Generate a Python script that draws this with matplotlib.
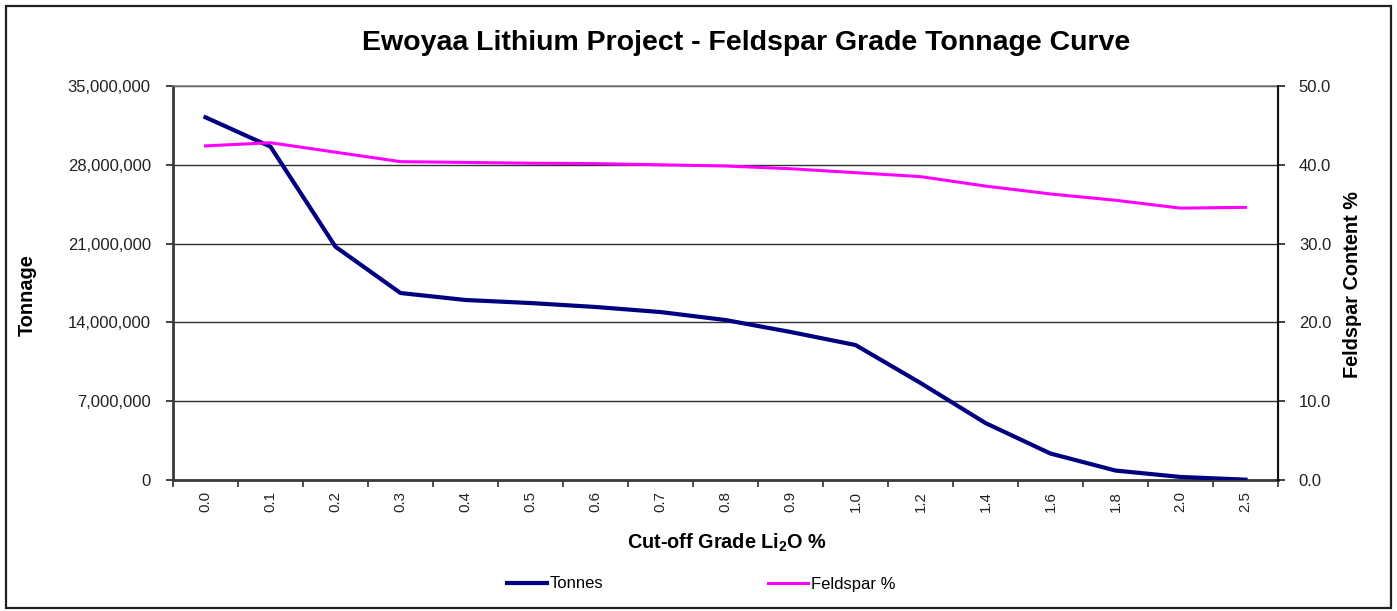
import matplotlib
matplotlib.use("Agg")
import matplotlib.pyplot as plt
from matplotlib.lines import Line2D
from matplotlib.patches import Rectangle
from matplotlib.ticker import FuncFormatter, MultipleLocator, FixedLocator

plt.rcParams['font.family'] = ['Liberation Sans', 'DejaVu Sans']
plt.rcParams['mathtext.fontset'] = 'custom'
plt.rcParams['mathtext.rm'] = 'Liberation Sans:bold'
plt.rcParams['mathtext.bf'] = 'Liberation Sans:bold'

cutoffs = ["0.0", "0.1", "0.2", "0.3", "0.4", "0.5", "0.6", "0.7", "0.8",
           "0.9", "1.0", "1.2", "1.4", "1.6", "1.8", "2.0", "2.5"]
tonnes = [32220000, 29610000, 20720000, 16610000, 15990000, 15720000,
          15370000, 14920000, 14210000, 13150000, 11990000, 8620000,
          5060000, 2350000, 840000, 270000, 30000]
feldspar = [42.4, 42.8, 41.6, 40.4, 40.3, 40.2, 40.15, 40.0, 39.85,
            39.5, 39.0, 38.5, 37.3, 36.3, 35.5, 34.5, 34.6]

W, H = 1397, 611
fig = plt.figure(figsize=(W / 100, H / 100), dpi=100)
fig.patch.set_facecolor("white")

# outer chart border
fig.add_artist(Rectangle((6 / W, 3 / H), (1391 - 6) / W, (605 - 3) / H,
                         transform=fig.transFigure, fill=False,
                         edgecolor="#202020", linewidth=1.6))

ax = fig.add_axes([173 / W, (H - 480) / H, (1278 - 173) / W, (480 - 86) / H])
ax2 = ax.twinx()

x = list(range(len(cutoffs)))
ax.plot(x, tonnes, color="#000080", linewidth=3.0, solid_joinstyle="round",
        zorder=3)
ax2.plot(x, feldspar, color="#FF00FF", linewidth=2.2, zorder=3)

ax.set_xlim(-0.5, len(cutoffs) - 0.5)
ax.set_ylim(0, 35000000)
ax2.set_ylim(0, 50)

ax.yaxis.set_major_locator(MultipleLocator(7000000))
ax.yaxis.set_major_formatter(FuncFormatter(lambda v, p: f"{int(v):,}"))
ax2.yaxis.set_major_locator(MultipleLocator(10))
ax2.yaxis.set_major_formatter(FuncFormatter(lambda v, p: f"{v:.1f}"))

ax.set_xticks(x)
ax.set_xticklabels(cutoffs, rotation=90, fontsize=10.8, color="#222222")
ax.xaxis.set_minor_locator(FixedLocator([i - 0.5 for i in range(len(cutoffs) + 1)]))
ax.tick_params(axis="x", which="major", length=0, pad=8)
ax.tick_params(axis="x", which="minor", length=5, width=1.2, color="#303030")
ax.tick_params(axis="y", length=5, width=1.2, pad=11, labelsize=12,
               colors="#222222")
ax2.tick_params(axis="y", length=5, width=1.2, pad=10, labelsize=12,
                colors="#222222")

ax.grid(axis="y", color="#303030", linewidth=1.0, zorder=1)
ax.set_axisbelow(True)

for s in ["left", "bottom"]:
    ax.spines[s].set_color("#3a3a3a")
    ax.spines[s].set_linewidth(2.0)
ax.spines["top"].set_color("#7a7a7a")
ax.spines["top"].set_linewidth(1.2)
ax2.spines["right"].set_color("#101010")
ax2.spines["right"].set_linewidth(1.5)
ax2.spines["left"].set_visible(False)
ax2.spines["top"].set_visible(False)
ax2.spines["bottom"].set_visible(False)

fig.text(746 / W, 1 - 43 / H,
         "Ewoyaa Lithium Project - Feldspar Grade Tonnage Curve",
         ha="center", va="center", fontsize=20.5, fontweight="bold",
         color="black")
fig.text(27 / W, 1 - 295 / H, "Tonnage", rotation=90, ha="center",
         va="center", fontsize=14.3, fontweight="bold", color="black")
fig.text(1352 / W, 1 - 285 / H, "Feldspar Content %", rotation=90,
         ha="center", va="center", fontsize=14.3, fontweight="bold",
         color="black")
fig.text(727 / W, 1 - 543 / H, r"Cut-off Grade Li$_{2}$O %", ha="center",
         va="center", fontsize=14.3, fontweight="bold", color="black")

handles = [Line2D([], [], color="#000080", linewidth=3.0),
           Line2D([], [], color="#FF00FF", linewidth=2.2)]
fig.legend(handles, ["Tonnes", "Feldspar %"], loc="center",
           bbox_to_anchor=(701 / W, 1 - 584 / H), ncol=2, frameon=False,
           fontsize=12, handlelength=2.4, handletextpad=0.15,
           columnspacing=9.9)

fig.savefig("out.png", dpi=100, facecolor="white")
